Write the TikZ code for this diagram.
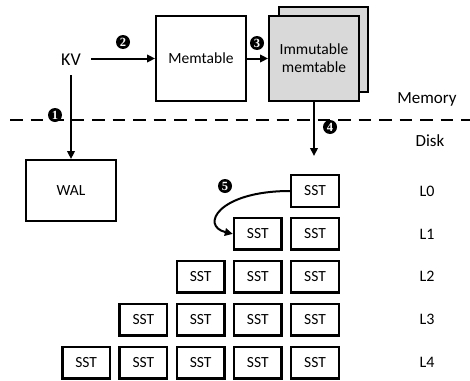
\documentclass[tikz,border=0pt]{standalone}
\usepackage{fontspec}
\setmainfont{Carlito}
\newfontfamily\bulletfont{Liberation Serif}
\usetikzlibrary{arrows.meta}
\tikzset{
  box/.style={draw=black, line width=2.4pt, inner sep=0pt, font=\fontsize{15.5}{18}\selectfont, align=center},
  sst/.style={box, minimum width=47.5pt, minimum height=31.5pt},
  lbl/.style={inner sep=0pt, font=\fontsize{16}{19}\selectfont},
  memlbl/.style={inner sep=0pt, font=\fontsize{17}{20}\selectfont},
  arr/.style={line width=2pt, -{Triangle[length=8pt,width=7.5pt]}},
  bullet/.style={circle, fill=black, inner sep=0pt, minimum size=14pt, text=white, font=\bulletfont\bfseries\fontsize{12.5}{12.5}\selectfont}
}
\begin{document}
\begin{tikzpicture}[x=1pt,y=-1pt]
\useasboundingbox (0,0) rectangle (470,380);
% memory / disk separator
\draw[line width=2.5pt, dash pattern=on 12.5pt off 8pt] (10,120) -- (470,120);
\node[memlbl] (mem) at (427,99) {Memory};
\node[memlbl] (disk) at (430,141) {Disk};
% top
\node[inner sep=0pt, minimum width=40pt, minimum height=30pt, font=\fontsize{18}{20}\selectfont] (kv) at (71,60) {KV};
\node[box, minimum width=89.5pt, minimum height=84.5pt] (memt) at (201,58.5) {Memtable};
\node[box, fill=gray!30, minimum width=89pt, minimum height=84.5pt] (immb) at (323.5,49.5) {};
\node[box, fill=gray!30, minimum width=89.5pt, minimum height=84.5pt] (imm) at (314,58.5) {Immutable\\memtable};
\node[box, minimum width=89.5pt, minimum height=60.5pt] (wal) at (71,190.5) {WAL};
\draw[arr] (kv.east |- memt.west) -- (memt.west);
\draw[arr] (memt.east) -- (imm.west);
\draw[arr] (kv.south) -- (wal.north);
\coordinate (flushend) at (314,156);
\draw[arr] (imm.south) -- (flushend);
% SST levels
\foreach \r/\n in {0/1,1/2,2/3,3/4,4/5}{
  \node[lbl] (L\r) at (427,{191+42.9*\r}) {L\r};
  \foreach \k in {1,...,\n}{
    \pgfmathtruncatemacro{\kk}{\k-1}
    \node[sst] (s\r\kk) at ({315-57.2*\kk},{191+42.9*\r}) {SST};
  }
}
\draw[arr] (s00.west) .. controls (218,191) and (200,226) .. (s11.west);
% bullets
\node[bullet] (b1) at (55,115) {1};
\node[bullet] (b2) at (123,42) {2};
\node[bullet] (b3) at (257,43) {3};
\node[bullet] (b4) at (330,127) {4};
\node[bullet] (b5) at (225,186) {5};
\end{tikzpicture}
\end{document}
